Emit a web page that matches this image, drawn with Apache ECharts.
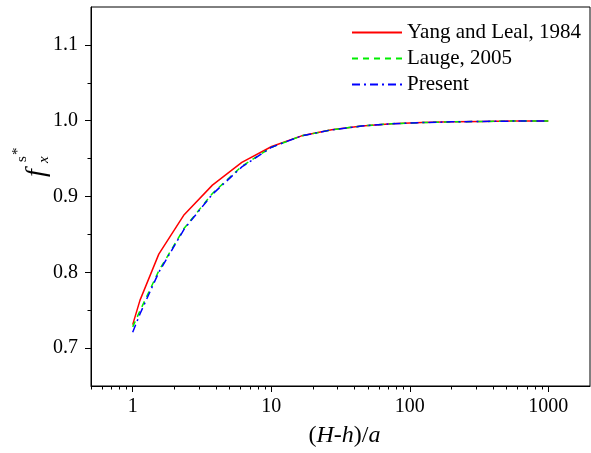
<!DOCTYPE html>
<html>
<head>
<meta charset="utf-8">
<script src="https://cdn.jsdelivr.net/npm/echarts@6/dist/echarts.min.js"></script>
<style>html,body{margin:0;padding:0;background:#fff}#c{width:591px;height:453px}</style>
</head>
<body>
<div id="c"></div>
<script>
var xValues = [1, 1.128, 1.543, 2.352, 3.762, 6.132, 10.07, 16.57, 27.31, 45.01, 74.21, 122.3, 201.7, 332.6, 548.3, 1000];
var yangLeal = [0.731, 0.763, 0.824, 0.876, 0.915, 0.945, 0.966, 0.980, 0.988, 0.993, 0.996, 0.9975, 0.9985, 0.999, 0.9995, 0.9997];
var lauge = [0.728, 0.749, 0.802, 0.858, 0.904, 0.940, 0.965, 0.980, 0.988, 0.993, 0.996, 0.9975, 0.9985, 0.999, 0.9995, 0.9997];
var present = [0.721, 0.745, 0.800, 0.857, 0.903, 0.939, 0.965, 0.980, 0.988, 0.993, 0.996, 0.9975, 0.9985, 0.999, 0.9995, 0.9997];
var seriesNames = ['Yang and Leal, 1984', 'Lauge, 2005', 'Present'];
var xMajorTicks = [1, 10, 100, 1000];
var xMinorTicks = [0.5, 0.6, 0.7, 0.8, 0.9, 2, 3, 4, 5, 6, 7, 8, 9, 20, 30, 40, 50, 60, 70, 80, 90, 200, 300, 400, 500, 600, 700, 800, 900];
var yMajorTicks = [0.7, 0.8, 0.9, 1.0, 1.1];
var yMinorTicks = [0.75, 0.85, 0.95, 1.05];

function pairs(xs, ys) { return xs.map(function (x, i) { return [x, ys[i]]; }); }

var FONT = 'Liberation Serif';
var chart = echarts.init(document.getElementById('c'), null, {renderer: 'canvas'});
var option = {
  animation: false,
  backgroundColor: '#fff',
  grid: {left: 91, right: 1, top: 7, bottom: 62, show: true, borderColor: '#000', borderWidth: 1, backgroundColor: 'transparent'},
  legend: {
    orient: 'vertical', left: 346, top: 17, itemWidth: 50, itemHeight: 14, itemGap: 5,
    itemStyle: {opacity: 0},
    textStyle: {fontFamily: FONT, fontSize: 21, color: '#000', lineHeight: 21, padding: [0, 0, 0, 0]},
    data: seriesNames
  },
  xAxis: [{
    type: 'log', logBase: 10, min: 0.5, max: 2000, position: 'bottom',
    axisLine: {show: true, lineStyle: {color: '#000', width: 1}},
    axisTick: {show: true, inside: false, length: 6, customValues: xMajorTicks, lineStyle: {color: '#000'}},
    axisLabel: {show: true, customValues: xMajorTicks, margin: 11, fontFamily: FONT, fontSize: 20, color: '#000',
      formatter: function (v) { return String(Math.round(v)); }},
    splitLine: {show: false}, minorTick: {show: false},
    name: '({i|H}-{i|h})/{i|a}', nameLocation: 'middle', nameGap: 38,
    nameTextStyle: {fontFamily: FONT, fontSize: 24, color: '#000', padding: [0, 0, 0, 8],
      rich: {i: {fontFamily: FONT, fontSize: 24, fontStyle: 'italic', color: '#000'}}}
  }, {
    type: 'log', logBase: 10, min: 0.5, max: 2000, position: 'bottom',
    axisLine: {show: false},
    axisTick: {show: true, inside: false, length: 3.5, customValues: xMinorTicks, lineStyle: {color: '#000'}},
    axisLabel: {show: false}, splitLine: {show: false}
  }],
  yAxis: [{
    type: 'value', min: 0.65, max: 1.15, position: 'left',
    axisLine: {show: true, lineStyle: {color: '#000', width: 1}},
    axisTick: {show: true, inside: false, length: 6, customValues: yMajorTicks, lineStyle: {color: '#000'}},
    axisLabel: {show: true, customValues: yMajorTicks, margin: 13, fontFamily: FONT, fontSize: 20, color: '#000',
      formatter: function (v) { return v.toFixed(1); }},
    splitLine: {show: false}
  }, {
    type: 'value', min: 0.65, max: 1.15, position: 'left',
    axisLine: {show: false},
    axisTick: {show: true, inside: false, length: 3.5, customValues: yMinorTicks, lineStyle: {color: '#000'}},
    axisLabel: {show: false}, splitLine: {show: false}
  }],
  graphic: [{
    type: 'group', x: 37, y: 177, rotation: Math.PI / 2,
    children: [
      {type: 'text', x: 0, y: 0, style: {text: 'f', font: 'italic 28px "Liberation Serif"', fill: '#000', verticalAlign: 'middle', align: 'left'}},
      {type: 'text', x: 14, y: 7, style: {text: 'x', font: 'italic 15px "Liberation Serif"', fill: '#000', verticalAlign: 'middle', align: 'left'}},
      {type: 'text', x: 15, y: -15, style: {text: 's', font: '15px "Liberation Serif"', fill: '#000', verticalAlign: 'middle', align: 'left'}},
      {type: 'text', x: 22, y: -19, style: {text: '*', font: '15px "Liberation Serif"', fill: '#000', verticalAlign: 'middle', align: 'left'}}
    ]
  }],
  series: [{
    name: seriesNames[0], type: 'line', data: pairs(xValues, yangLeal), showSymbol: false, symbol: 'none',
    lineStyle: {color: '#ff0000', width: 1.5, type: 'solid'}, itemStyle: {color: '#ff0000'}
  }, {
    name: seriesNames[1], type: 'line', data: pairs(xValues, lauge), showSymbol: false, symbol: 'none',
    lineStyle: {color: '#00ee00', width: 1.5, type: [6, 5]}, itemStyle: {color: '#00ee00'}
  }, {
    name: seriesNames[2], type: 'line', data: pairs(xValues, present), showSymbol: false, symbol: 'none',
    lineStyle: {color: '#0000ff', width: 1.5, type: [8, 4, 2, 4]}, itemStyle: {color: '#0000ff'}
  }]
};
chart.setOption(option);
</script>
</body>
</html>
